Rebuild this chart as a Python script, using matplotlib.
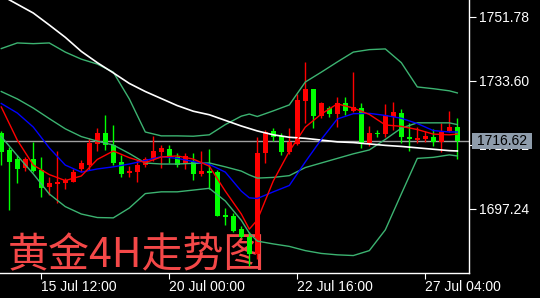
import matplotlib
matplotlib.use("Agg")
import matplotlib.pyplot as plt
import matplotlib.transforms as mtransforms
from matplotlib.patches import Rectangle
import numpy as np

plt.rcParams['font.family'] = ['Liberation Sans', 'DejaVu Sans']

# gold 4H candles, oldest first
opens = [1718.8, 1714.0, 1711.3, 1708.9, 1711.4, 1708.3, 1703.5, 1704.3, 1704.6, 1705.0,
         1708.6, 1709.7, 1715.6, 1718.7, 1715.4, 1710.7, 1707.4, 1707.7, 1709.6, 1711.3,
         1713.5, 1714.3, 1712.0, 1709.9, 1710.7, 1707.3, 1708.1, 1707.8, 1695.5, 1695.2,
         1691.4, 1689.3, 1684.4, 1713.1, 1719.4, 1718.1, 1713.3, 1715.7, 1728.0, 1731.2,
         1723.6, 1725.8, 1724.3, 1727.4, 1725.2, 1725.9, 1715.9, 1718.7, 1718.5, 1723.5,
         1724.6, 1717.8, 1716.9, 1717.2, 1717.8, 1716.3, 1719.5, 1720.5]
highs = [1719.4, 1714.8, 1712.6, 1712.0, 1716.3, 1712.1, 1706.3, 1713.7, 1705.9, 1708.6,
         1711.1, 1717.4, 1720.2, 1723.9, 1721.1, 1712.6, 1709.4, 1711.1, 1712.0, 1718.0,
         1715.4, 1715.4, 1713.1, 1713.2, 1713.1, 1713.6, 1714.2, 1708.3, 1697.4, 1696.0,
         1692.4, 1690.7, 1717.7, 1719.7, 1720.1, 1718.8, 1720.2, 1729.8, 1739.1, 1731.3,
         1727.7, 1726.6, 1728.9, 1729.1, 1736.2, 1727.3, 1720.8, 1719.7, 1727.1, 1727.6,
         1725.6, 1721.6, 1720.4, 1719.4, 1720.0, 1721.6, 1725.2, 1723.1]
lows = [1709.7, 1696.9, 1704.6, 1707.9, 1707.8, 1700.5, 1701.2, 1698.8, 1702.8, 1704.8,
        1707.7, 1708.3, 1713.8, 1714.0, 1709.7, 1706.4, 1706.3, 1705.0, 1709.2, 1710.9,
        1708.9, 1710.3, 1709.2, 1708.5, 1705.5, 1706.5, 1702.9, 1695.1, 1692.7, 1690.8,
        1689.0, 1681.0, 1683.0, 1710.3, 1716.4, 1712.6, 1712.9, 1715.4, 1721.7, 1720.2,
        1723.1, 1723.5, 1720.5, 1723.9, 1724.9, 1714.6, 1715.1, 1717.8, 1717.7, 1719.7,
        1715.9, 1713.7, 1716.0, 1716.3, 1715.1, 1713.4, 1719.0, 1711.4]
closes = [1713.4, 1710.7, 1708.6, 1711.4, 1708.0, 1703.3, 1704.5, 1704.8, 1705.5, 1707.7,
          1710.3, 1716.0, 1718.7, 1715.3, 1710.3, 1707.2, 1708.1, 1709.6, 1711.3, 1713.7,
          1714.5, 1712.0, 1709.7, 1712.4, 1707.3, 1708.0, 1707.5, 1695.2, 1694.9, 1691.1,
          1689.3, 1684.4, 1713.2, 1719.2, 1717.8, 1713.3, 1716.2, 1728.2, 1731.2, 1723.6,
          1727.4, 1724.2, 1727.4, 1725.1, 1726.1, 1715.9, 1718.8, 1718.6, 1723.9, 1724.9,
          1717.7, 1717.0, 1717.5, 1717.9, 1716.3, 1719.2, 1720.6, 1716.62]

# indicator lines, read at these bar numbers
line_idx = [0, 2, 4, 6, 8, 10, 12, 14, 16, 18, 20, 22, 24, 26, 28, 30, 31,
            32, 34, 36, 38, 40, 42, 44, 46, 48, 50, 52, 54, 56, 57]
ma_fast = [1726.2, 1716.8, 1709.7, 1707.0, 1705.3, 1706.6, 1711.3, 1713.7, 1711.8, 1710.4,
           1712.0, 1712.3, 1711.4, 1709.4, 1702.3, 1695.8, 1691.5,
           1694.1, 1705.2, 1713.6, 1720.5, 1724.2, 1727.1, 1725.9, 1724.1, 1721.1,
           1720.7, 1719.8, 1718.5, 1718.3, 1718.5]
ma_mid = [1727.2, 1724.5, 1720.5, 1714.6, 1709.7, 1707.7, 1708.6, 1709.2, 1710.0, 1711.0,
          1712.1, 1711.6, 1710.7, 1709.9, 1707.7, 1702.3, 1700.4,
          1700.2, 1702.1, 1703.9, 1710.6, 1717.0, 1722.8, 1724.3, 1724.4, 1723.8,
          1723.0, 1721.5, 1719.5, 1719.1, 1719.1]
ma_slow = [1757.9, 1755.4, 1752.9, 1749.5, 1746.0, 1742.0, 1738.8, 1735.9, 1732.9, 1730.6,
           1728.6, 1726.6, 1725.0, 1724.0, 1722.4, 1720.8, 1720.1,
           1719.4, 1718.3, 1717.6, 1717.3, 1716.8, 1716.3, 1716.1, 1715.7, 1715.3,
           1715.0, 1714.6, 1714.2, 1713.8, 1713.7]
bb_upper = [1742.8, 1744.4, 1744.2, 1744.4, 1741.8, 1739.8, 1738.4, 1736.1, 1728.5, 1719.1,
            1718.0, 1718.0, 1717.9, 1718.3, 1721.2, 1723.6, 1724.2,
            1723.5, 1725.1, 1726.8, 1733.3, 1736.1, 1739.0, 1741.8, 1742.5, 1742.7,
            1738.8, 1731.9, 1731.4, 1730.8, 1730.2]
bb_middle = [1730.6, 1728.5, 1725.9, 1722.9, 1720.0, 1717.8, 1716.5, 1715.4, 1713.0, 1710.3,
             1710.0, 1710.0, 1710.2, 1710.3, 1709.2, 1708.0, 1706.9,
             1706.0, 1706.2, 1706.7, 1709.0, 1710.3, 1711.6, 1712.9, 1714.0, 1717.0,
             1720.2, 1721.7, 1721.7, 1721.7, 1721.2]
bb_lower = [1717.8, 1712.4, 1707.2, 1701.5, 1697.9, 1695.8, 1694.8, 1694.7, 1697.5, 1701.6,
            1702.1, 1702.1, 1702.6, 1703.1, 1699.5, 1694.0, 1690.4,
            1688.1, 1687.3, 1686.6, 1685.4, 1684.6, 1684.2, 1684.0, 1685.4, 1691.3,
            1701.5, 1711.6, 1711.9, 1712.6, 1712.3]

last_price = 1716.62
price_ticks = [1751.78, 1733.60, 1715.42, 1697.24]
date_pos = [5, 21, 37, 53]
date_labels = ["15 Jul 12:00", "20 Jul 00:00", "22 Jul 16:00", "27 Jul 04:00"]
title = "黄金4H走势图"

fig = plt.figure(figsize=(5.4, 2.98), dpi=100, facecolor='black')
ax = fig.add_axes([0, 25 / 298, 469 / 540, 273 / 298])
ax.set_facecolor('black')

x = np.arange(len(opens))
o = np.array(opens)
c = np.array(closes)
up = c >= o
cols = np.where(up, '#ff0000', '#00ff00')
bottom = np.minimum(o, c)
height = np.maximum(np.abs(c - o), 0.3)

ax.axhline(last_price, color='#a0a0a0', lw=1, zorder=1)
ax.vlines(x, lows, highs, colors=cols, lw=1, zorder=3)
ax.bar(x, height, bottom=bottom, width=0.62, color=cols, linewidth=0, zorder=4)

ax.plot(line_idx, bb_upper, color='#3cb371', lw=1, zorder=5)
ax.plot(line_idx, bb_middle, color='#3cb371', lw=1, zorder=5)
ax.plot(line_idx, bb_lower, color='#3cb371', lw=1, zorder=5)
ax.plot(line_idx, ma_slow, color='white', lw=1.2, zorder=5)
ax.plot(line_idx, ma_mid, color='#0000ff', lw=1, zorder=6)
ax.plot(line_idx, ma_fast, color='#ff0000', lw=1, zorder=7)

ax.text(8 / 469, 6 / 273, title, transform=ax.transAxes, color='#f44848',
        fontsize=29.5, family=['Noto Sans CJK SC', 'DejaVu Sans'],
        ha='left', va='baseline', zorder=2)

ax.set_xlim(-0.16, 58.46)
ax.set_ylim(1679.04, 1756.6)

for side in ['top', 'left']:
    ax.spines[side].set_visible(False)
for side in ['right', 'bottom']:
    ax.spines[side].set_color('white')
    ax.spines[side].set_linewidth(1)

ax.yaxis.tick_right()
ax.set_yticks(price_ticks, ["%.2f" % p for p in price_ticks])
ax.set_xticks(date_pos, date_labels)
for lab in ax.get_xticklabels():
    lab.set_horizontalalignment('left')
ax.tick_params(axis='y', colors='white', labelsize=10, length=5, pad=2)
ax.tick_params(axis='x', colors='white', labelsize=10, length=4, pad=1)

# current price box on the axis
trans = mtransforms.blended_transform_factory(ax.transAxes, ax.transData)
ax.add_patch(Rectangle((1 + 3 / 469, last_price - 8 * 0.2841), 60 / 469, 16 * 0.2841,
                       transform=trans, facecolor='#8e9cab', edgecolor='none',
                       clip_on=False, zorder=10))
ax.text(1 + 33 / 469, last_price, "%.2f" % last_price, transform=trans, color='black',
        fontsize=10, ha='center', va='center', clip_on=False, zorder=11)

fig.savefig("out.png", dpi=100, facecolor='black')
